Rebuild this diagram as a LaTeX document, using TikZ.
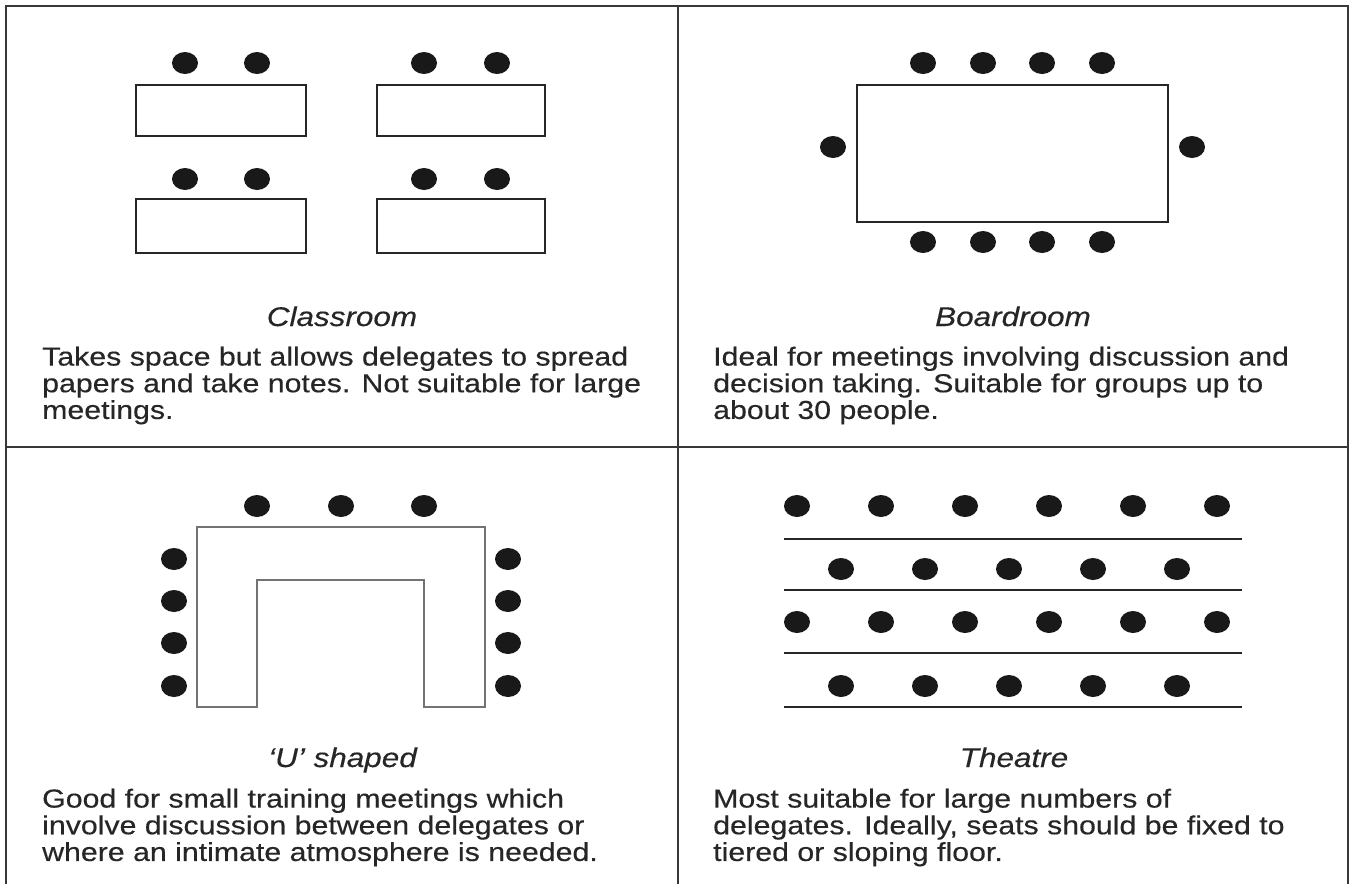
\documentclass[tikz,border=0pt]{standalone}
\usepackage{fontspec}
\setmainfont{Liberation Sans}[FakeStretch=1.165,FakeBold=0.35]
\begin{document}
\begin{tikzpicture}[x=1pt,y=-1pt,
  frame/.style={line width=2.2pt, draw=black!78},
  tablebox/.style={line width=1.8pt, draw=black!85},
  ushape/.style={line width=1.3pt, draw=black!55},
  rowline/.style={line width=2pt, draw=black!85},
  seat/.style={fill=black!90},
  caption/.style={font=\fontsize{27}{29}\selectfont\itshape, inner sep=0pt, anchor=base, text=black!85},
  desc/.style={font=\fontsize{26}{26.7}\selectfont, inner sep=0pt, anchor=north west, align=left, text=black!85}]
\useasboundingbox (0,0) rectangle (1354,884);
\fill[white] (0,0) rectangle (1354,884);
% frame
\draw[frame] (6,884) -- (6,6) -- (1348,6) -- (1348,884);
\draw[frame] (678,6) -- (678,884);
\draw[frame] (6,447) -- (1348,447);
% Classroom
\draw[tablebox] (136,85) rectangle (306,136);
\draw[tablebox] (377,85) rectangle (545,136);
\draw[tablebox] (136,199) rectangle (306,253);
\draw[tablebox] (377,199) rectangle (545,253);
\foreach \x in {185,257,424,497} \foreach \y in {63,179}
  \fill[seat] (\x,\y) ellipse [x radius=13pt, y radius=11pt];
\node[caption] (capA) at (342,326) {Classroom};
\node[desc] (descA) at (42,346.5) {Takes space but allows delegates to spread\\papers and take notes. Not suitable for large\\meetings.};
% Boardroom
\draw[tablebox] (857,85) rectangle (1168,222);
\foreach \x in {923,983,1042,1102} \foreach \y in {63,242}
  \fill[seat] (\x,\y) ellipse [x radius=13pt, y radius=11pt];
\fill[seat] (833,147) ellipse [x radius=13pt, y radius=11pt];
\fill[seat] (1192,147) ellipse [x radius=13pt, y radius=11pt];
\node[caption] (capB) at (1013,326) {Boardroom};
\node[desc] (descB) at (713,346.5) {Ideal for meetings involving discussion and\\decision taking. Suitable for groups up to\\about 30 people.};
% U shaped
\draw[ushape] (197,707) -- (197,527) -- (485,527) -- (485,707) -- (424,707) -- (424,580) -- (257,580) -- (257,707) -- cycle;
\foreach \x in {257,341,424}
  \fill[seat] (\x,506) ellipse [x radius=13pt, y radius=11pt];
\foreach \y in {559,601,643,686} {
  \fill[seat] (174,\y) ellipse [x radius=13pt, y radius=11pt];
  \fill[seat] (508,\y) ellipse [x radius=13pt, y radius=11pt];
}
\node[caption] (capC) at (342.5,767) {`U' shaped};
\node[desc] (descC) at (42,788.5) {Good for small training meetings which\\involve discussion between delegates or\\where an intimate atmosphere is needed.};
% Theatre
\foreach \y in {539,590,653,707}
  \draw[rowline] (784,\y) -- (1242,\y);
\foreach \y in {506,622} \foreach \x in {797,881,965,1049,1133,1217}
  \fill[seat] (\x,\y) ellipse [x radius=13pt, y radius=11pt];
\foreach \y in {569,686} \foreach \x in {841,925,1009,1093,1177}
  \fill[seat] (\x,\y) ellipse [x radius=13pt, y radius=11pt];
\node[caption] (capD) at (1014,767) {Theatre};
\node[desc] (descD) at (713,788.5) {Most suitable for large numbers of\\delegates. Ideally, seats should be fixed to\\tiered or sloping floor.};
\end{tikzpicture}
\end{document}
